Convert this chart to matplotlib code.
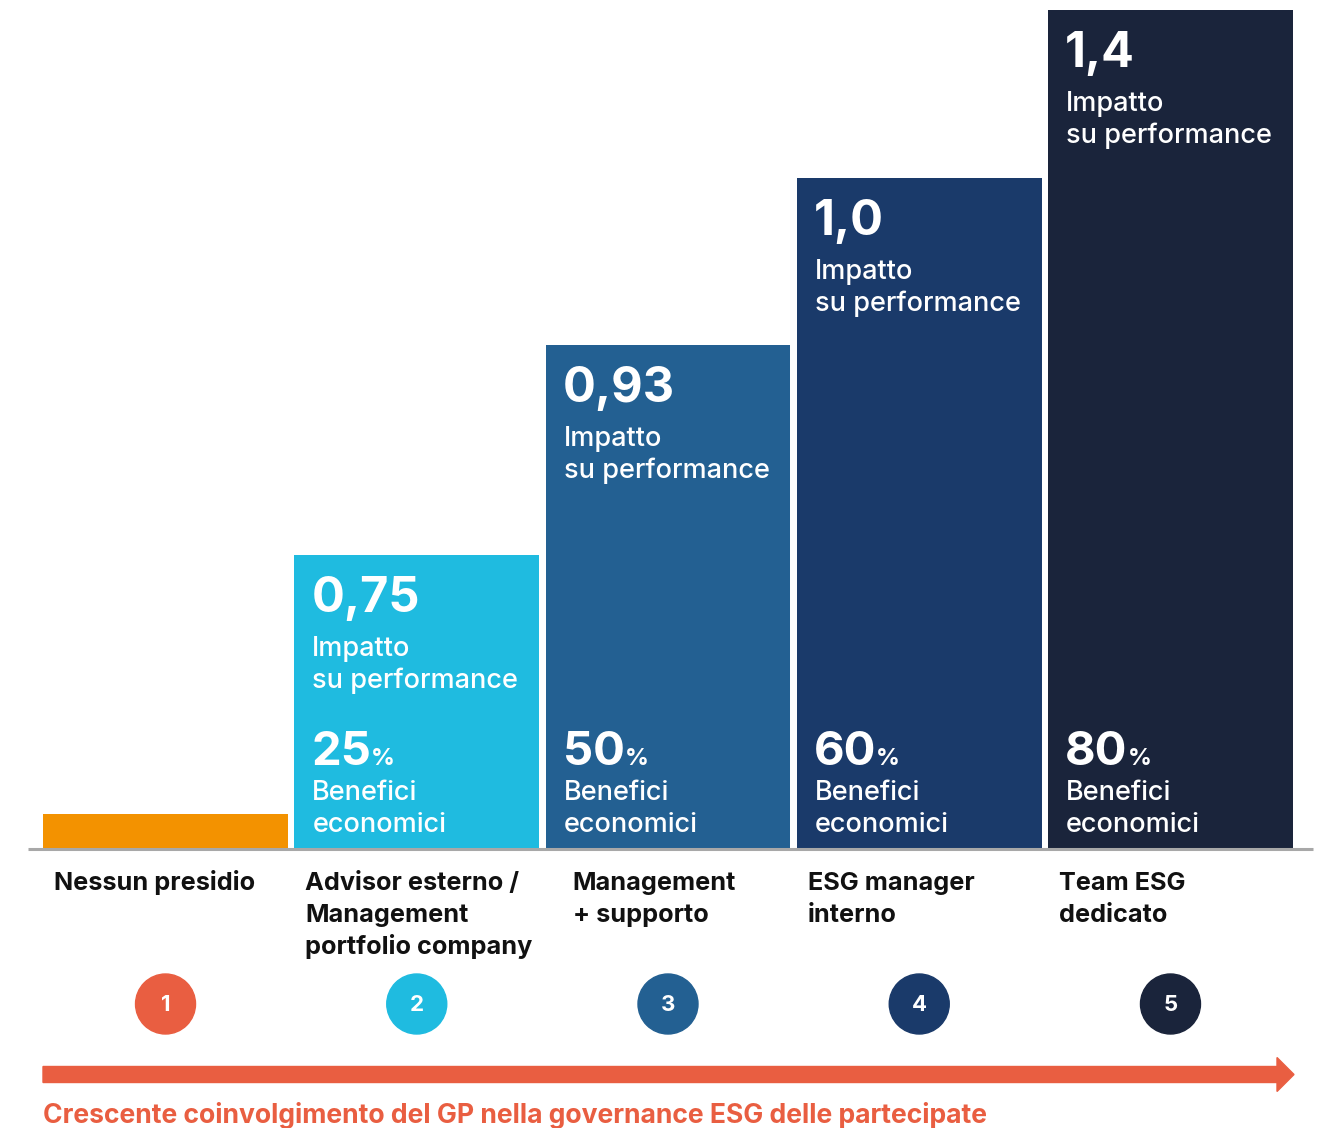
import matplotlib
matplotlib.use("Agg")
import matplotlib.pyplot as plt
from matplotlib.patches import Circle, FancyArrow
from matplotlib.transforms import offset_copy

# ---------------- data ----------------
categories = ["Nessun presidio",
              "Advisor esterno /\nManagement\nportfolio company",
              "Management\n+ supporto",
              "ESG manager\ninterno",
              "Team ESG\ndedicato"]
steps = ["1", "2", "3", "4", "5"]
bar_heights = [0.04, 0.35, 0.60, 0.80, 1.00]        # relative visual height of each step
impact_labels = [None, "0,75", "0,93", "1,0", "1,4"]
benefit_pct = [None, "25", "50", "60", "80"]
impact_text = ["Impatto", "su performance"]
benefit_text = ["Benefici", "economici"]
caption = "Crescente coinvolgimento del GP nella governance ESG delle partecipate"

bar_colors = ["#F39200", "#1FBBE0", "#236092", "#1A3A6A", "#1A243B"]
circle_colors = ["#E95E41", "#1FBBE0", "#236092", "#1A3A6A", "#1A243B"]
accent = "#E95E41"

W, H = 1319, 1128
plt.rcParams['font.family'] = ['Inter', 'DejaVu Sans']

fig = plt.figure(figsize=(W / 100, H / 100), dpi=100)
fig.patch.set_facecolor("white")

# bar axes: x -0.5..4.5 -> px 40..1296, y 0..1 -> px 848..10
ax = fig.add_axes([39.9 / W, (H - 848) / H, 1256.2 / W, 838 / H])
ax.set_xlim(-0.5, 4.5)
ax.set_ylim(0, 1)
ax.axis("off")
xs = list(range(len(categories)))
bw = 0.975
bars = ax.bar(xs, bar_heights, width=bw, color=bar_colors, zorder=2)

# overlay axes in pixel units (y downwards) for decorations
ov = fig.add_axes([0, 0, 1, 1])
ov.set_xlim(0, W)
ov.set_ylim(H, 0)
ov.axis("off")
ov.patch.set_alpha(0)

ov.plot([28, 1313], [849, 849], color="#A8A8A8", lw=2.2, solid_capstyle="butt", zorder=3)

renderer = fig.canvas.get_renderer()


def tr(dx, dy):
    # offset in pixels (dy positive = downwards)
    return offset_copy(ax.transData, fig=fig, x=dx, y=-dy, units='dots')


PAD = 18
LS = 32
for i, (x, h) in enumerate(zip(xs, bar_heights)):
    left = x - bw / 2
    if impact_labels[i] is not None:
        ax.text(left, h, impact_labels[i], transform=tr(PAD - 1, 57), color="white",
                fontsize=35, fontweight="bold", ha="left", va="baseline", zorder=4)
        for k, line in enumerate(impact_text):
            ax.text(left, h, line, transform=tr(PAD, 101 + LS * k), color="white",
                    fontsize=19.5, fontweight="medium", ha="left", va="baseline", zorder=4)
        # percentage block near the bottom
        t = ax.text(left, 0, benefit_pct[i], transform=tr(PAD - 1, -83), color="white",
                    fontsize=34, fontweight="bold", ha="left", va="baseline", zorder=4)
        wpx = t.get_window_extent(renderer=renderer).width
        ax.text(left, 0, "%", transform=tr(PAD - 1 + wpx, -83), color="white",
                fontsize=17, fontweight="bold", ha="left", va="baseline", zorder=4)
        for k, line in enumerate(benefit_text):
            ax.text(left, 0, line, transform=tr(PAD, -48 + LS * k), color="white",
                    fontsize=19.5, fontweight="medium", ha="left", va="baseline", zorder=4)

    # category label below baseline
    dx = 27 if i == 2 else 11
    for k, line in enumerate(categories[i].split("\n")):
        ax.text(left, 0, line, transform=tr(dx, 42 + LS * k),
                color="#111111", fontsize=18.2, fontweight="bold", ha="left", va="baseline",
                zorder=4, clip_on=False)

    # step circle
    cx_disp = ax.transData.transform((x, 0))[0]
    ov.add_patch(Circle((cx_disp, 1004), 30, color=circle_colors[i], zorder=4))
    ov.text(cx_disp, 1005, steps[i], color="white", fontsize=16, fontweight="bold",
            ha="center", va="center", zorder=5)

ov.add_patch(FancyArrow(43, 1074.5, 1251, 0, width=16, head_width=34, head_length=17,
                        length_includes_head=True, color=accent, zorder=4))
ov.text(43, 1123, caption, color=accent, fontsize=19.1, fontweight="bold",
        ha="left", va="baseline")

fig.savefig("out.png", dpi=100, facecolor="white")
